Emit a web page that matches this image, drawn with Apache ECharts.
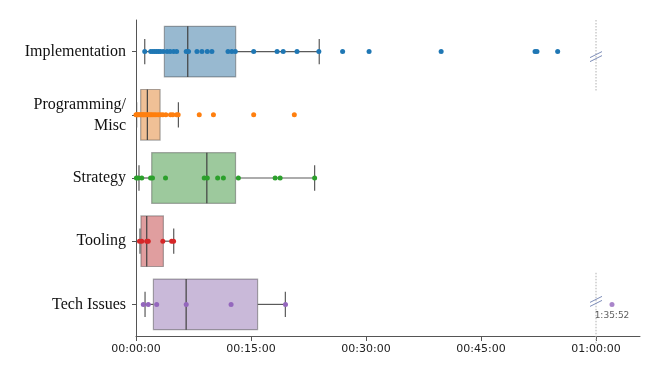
<!DOCTYPE html>
<html>
<head>
<meta charset="utf-8">
<script src="https://cdn.jsdelivr.net/npm/echarts@6/dist/echarts.min.js"></script>
<style>html,body{margin:0;padding:0;background:#fff}#c{width:654px;height:369px}</style>
</head>
<body>
<div id="c"></div>
<script>
// ---- data (minutes) ----
const categories = ['Implementation', 'Programming/\nMisc', 'Strategy', 'Tooling', 'Tech Issues'];
const xTicks = [0, 15, 30, 45, 60];

const implPoints = [1.14, 1.92, 2.2, 2.45, 2.7, 2.95, 3.2, 3.55, 4.05, 4.45, 4.9, 5.3, 6.55, 6.85, 7.95, 8.6, 9.3, 9.9, 12.0, 12.5, 12.95, 15.35, 18.4, 19.2, 21.0, 23.85, 26.95, 30.4, 39.8, 52.05, 52.3, 55.0];
const progPoints = [0.0, 0.1, 0.2, 0.35, 0.5, 0.65, 0.8, 0.95, 1.1, 1.3, 1.5, 1.7, 1.9, 2.1, 2.35, 2.6, 2.9, 3.2, 3.5, 3.9, 4.5, 4.8, 5.3, 5.5, 8.25, 10.1, 15.35, 20.65];
const stratPoints = [0.05, 0.3, 0.75, 1.9, 2.15, 3.85, 8.9, 9.3, 10.65, 11.4, 13.35, 18.15, 18.8, 23.3];
const toolPoints = [0.45, 0.75, 1.4, 1.6, 3.5, 4.65, 4.9];
const techPoints = [0.95, 1.6, 2.7, 6.55, 12.4, 19.5];
const techOutlier = [95.8667]; // 1:35:52

// box statistics: [whiskerLow, Q1, median, Q3, whiskerHigh]
const boxImpl = [1.14, 3.7, 6.75, 13.0, 23.9];
const boxProg = [0.08, 0.61, 1.48, 3.14, 5.53];
const boxStrat = [0.39, 2.05, 9.24, 12.98, 23.3];
const boxTool = [0.52, 0.65, 1.4, 3.57, 4.92];
const boxTech = [1.18, 2.27, 6.54, 15.86, 19.48];

const dotColors = ['#1f77b4', '#ff7f0e', '#2ca02c', '#d62728', '#9467bd'];
const boxFills = ['#98b9d0', '#f0c096', '#9dc99d', '#e09e9f', '#c9b9d9'];
const breakRows = [0, 4];
const breakAt = 60;

const pointSets = [implPoints, progPoints, stratPoints, toolPoints, techPoints];
const boxSets = [boxImpl, boxProg, boxStrat, boxTool, boxTech];

function pad(n) { return String(n).padStart(2, '0'); }
function fmtHMS(m) {
  const s = Math.round(m * 60);
  return pad(Math.floor(s / 3600)) + ':' + pad(Math.floor((s % 3600) / 60)) + ':' + pad(s % 60);
}
function fmtShort(m) {
  const s = Math.round(m * 60);
  return Math.floor(s / 3600) + ':' + pad(Math.floor((s % 3600) / 60)) + ':' + pad(s % 60);
}

const chart = echarts.init(document.getElementById('c'), null, { renderer: 'canvas' });

const boxData = boxSets.map((b, i) => [i, b[0], b[1], b[2], b[3], b[4]]);

function renderBox(params, api) {
  const ci = api.value(0);
  const band = api.size([0, 1])[1];
  const y = api.coord([0, ci])[1];
  const x = k => api.coord([api.value(k), ci])[0];
  const xMin = x(1), xQ1 = x(2), xMed = x(3), xQ3 = x(4), xMax = x(5);
  const hb = band * 0.4, hc = band * 0.2;
  const wl = { stroke: '#5a5a5a', lineWidth: 1.2 };
  return {
    type: 'group',
    children: [
      { type: 'line', shape: { x1: xMin, y1: y, x2: xQ1, y2: y }, style: wl },
      { type: 'line', shape: { x1: xQ3, y1: y, x2: xMax, y2: y }, style: wl },
      { type: 'line', shape: { x1: xMin, y1: y - hc, x2: xMin, y2: y + hc }, style: wl },
      { type: 'line', shape: { x1: xMax, y1: y - hc, x2: xMax, y2: y + hc }, style: wl },
      { type: 'rect', shape: { x: xQ1, y: y - hb, width: xQ3 - xQ1, height: 2 * hb },
        style: { fill: boxFills[ci], stroke: 'rgba(70,70,70,0.45)', lineWidth: 1.2 } },
      { type: 'line', shape: { x1: xMed, y1: y - hb, x2: xMed, y2: y + hb }, style: { stroke: '#404040', lineWidth: 1.2 } }
    ]
  };
}

function renderBreak(params, api) {
  const ci = api.value(1);
  const band = api.size([0, 1])[1];
  const p = api.coord([api.value(0), ci]);
  const cs = params.coordSys;
  const y1 = Math.max(cs.y, p[1] - band * 0.5);
  const y2 = Math.min(cs.y + cs.height + 8, p[1] + band * 0.62);
  const sl = { stroke: '#7d8db8', lineWidth: 1 };
  const yc = ci === 0 ? p[1] + 5 : p[1] - 3;
  return {
    type: 'group',
    children: [
      { type: 'line', shape: { x1: p[0], y1: y1, x2: p[0], y2: y2 }, style: { stroke: '#b0b0b0', lineWidth: 1, lineDash: [1.5, 1.5] } },
      { type: 'line', shape: { x1: p[0] - 6, y1: yc + 1, x2: p[0] + 6, y2: yc - 5 }, style: sl },
      { type: 'line', shape: { x1: p[0] - 6, y1: yc + 5, x2: p[0] + 6, y2: yc - 1 }, style: sl }
    ]
  };
}

const series = [
  {
    type: 'custom', xAxisIndex: 0, yAxisIndex: 0, renderItem: renderBox,
    encode: { x: [1, 2, 3, 4, 5], y: 0 }, data: boxData, z: 2, silent: true
  },
  {
    type: 'custom', xAxisIndex: 0, yAxisIndex: 0, renderItem: renderBreak,
    encode: { x: 0, y: 1 }, data: breakRows.map(r => [breakAt, r]), z: 1, clip: false, silent: true
  }
];
pointSets.forEach((pts, i) => {
  series.push({
    type: 'scatter', xAxisIndex: 0, yAxisIndex: 0, z: 3,
    symbolSize: 5, itemStyle: { color: dotColors[i], opacity: 1 },
    data: pts.map(v => [v, i]), silent: true
  });
});
series.push({
  type: 'scatter', xAxisIndex: 1, yAxisIndex: 1, z: 3,
  symbolSize: 5, itemStyle: { color: dotColors[4] },
  data: techOutlier.map(v => [v, 4]),
  label: { show: true, position: 'bottom', distance: 4, formatter: p => fmtShort(p.value[0]),
    fontFamily: 'DejaVu Sans', fontSize: 9, color: '#333' },
  silent: true
});

const axisCol = '#555';
chart.setOption({
  animation: false,
  backgroundColor: '#fff',
  grid: [
    { left: 136, right: 58, top: 20, bottom: 33, containLabel: false },
    { left: 596, right: 14, top: 20, bottom: 33, containLabel: false }
  ],
  xAxis: [
    {
      type: 'value', gridIndex: 0, min: xTicks[0], max: xTicks[xTicks.length - 1], interval: 15,
      axisLine: { show: true, lineStyle: { color: axisCol, width: 1 } },
      axisTick: { show: true, length: 5, lineStyle: { color: axisCol } },
      splitLine: { show: false },
      axisLabel: { formatter: v => fmtHMS(v), fontFamily: 'DejaVu Sans', fontSize: 11, color: '#222', margin: 8, showMaxLabel: true, showMinLabel: true }
    },
    {
      type: 'value', gridIndex: 1, min: 93.78, max: 99.52,
      axisLine: { show: true, lineStyle: { color: axisCol, width: 1 } },
      axisTick: { show: false }, axisLabel: { show: false }, splitLine: { show: false }
    }
  ],
  yAxis: [
    {
      type: 'category', gridIndex: 0, data: categories, inverse: true,
      axisLine: { show: true, lineStyle: { color: axisCol, width: 1 } },
      axisTick: { show: true, alignWithLabel: true, length: 4, lineStyle: { color: axisCol } },
      splitLine: { show: false },
      axisLabel: { fontFamily: 'Liberation Serif', fontSize: 16, color: '#111', margin: 10, lineHeight: 21, align: 'right' }
    },
    {
      type: 'category', gridIndex: 1, data: categories, inverse: true, show: false
    }
  ],
  series: series
});
</script>
</body>
</html>
